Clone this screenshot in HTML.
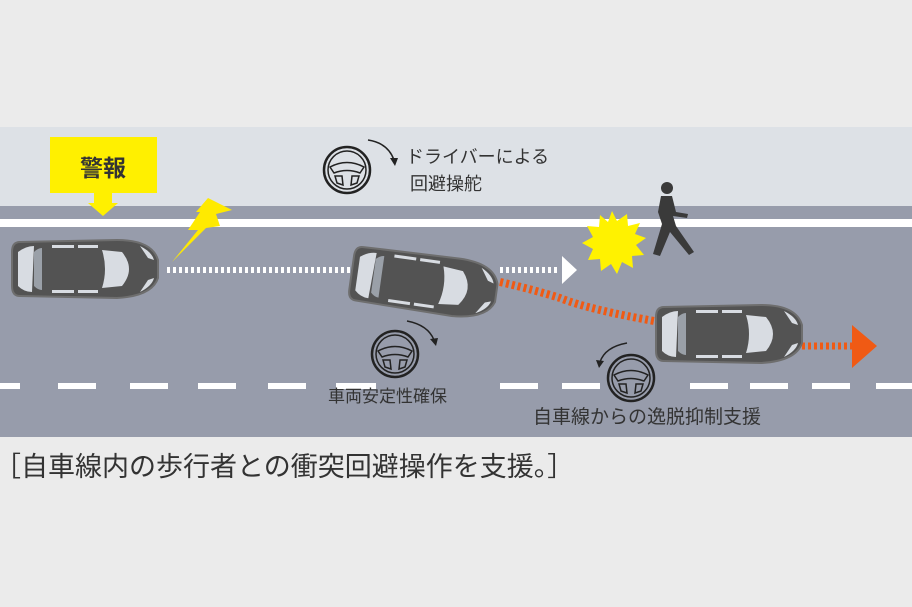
<!DOCTYPE html>
<html><head><meta charset="utf-8"><style>
html,body{margin:0;padding:0;background:#ebebeb;}
svg{display:block;font-family:"Liberation Sans","Noto Sans CJK JP",sans-serif;}
</style></head><body>
<svg width="912" height="607" viewBox="0 0 912 607" xmlns="http://www.w3.org/2000/svg">
<defs>
<g id="car">
  <path d="M8,4 Q0,4 0,14 L0,48 Q0,58 8,58 L105,60 Q140,58 146,40 L146,22 Q140,2 105,2 Z" fill="#535353" stroke="#6e6e6e" stroke-width="2"/>
  <path d="M6,14 Q14,8 22,8 L20,54 Q12,54 6,48 Z" fill="#d8dce2"/>
  <path d="M22,14 Q26,10 30,10 L30,52 Q26,52 22,48 Z" fill="#9aa0a8"/>
  <path d="M90,12 L110,14 Q124,31 110,48 L90,50 Q96,31 90,12 Z" fill="#d8dce2"/>
  <rect x="40" y="7" width="22" height="3" fill="#d8dce2"/>
  <rect x="66" y="7" width="20" height="3" fill="#d8dce2"/>
  <rect x="40" y="52" width="22" height="3" fill="#d8dce2"/>
  <rect x="66" y="52" width="20" height="3" fill="#d8dce2"/>
  <path d="M128,8 Q140,14 142,22 L136,20 Z" fill="#d8dce2"/>
  <path d="M128,54 Q140,48 142,40 L136,42 Z" fill="#d8dce2"/>
</g>
<g id="wheel">
  <circle cx="0" cy="0" r="23" fill="none" stroke="#222" stroke-width="2.5"/>
  <circle cx="0" cy="0" r="19" fill="none" stroke="#222" stroke-width="1.5"/>
  <path d="M-17,-3 Q0,-12 17,-3 L13,3 Q0,-2 -13,3 Z" fill="none" stroke="#222" stroke-width="1.5"/>
  <path d="M-12,6 L-5,6 L-4,15 L-10,13 Z" fill="none" stroke="#222" stroke-width="1.5"/>
  <path d="M12,6 L5,6 L4,15 L10,13 Z" fill="none" stroke="#222" stroke-width="1.5"/>
</g>
</defs>
<rect x="0" y="0" width="912" height="607" fill="#ebebeb"/>
<rect x="0" y="127" width="912" height="79" fill="#dde1e6"/>
<rect x="0" y="206" width="912" height="231" fill="#979cab"/>
<rect x="0" y="219" width="912" height="8" fill="#fff"/>
<g fill="#fff">
  <rect x="0" y="383" width="20" height="6"/><rect x="58" y="383" width="38" height="6"/>
  <rect x="130" y="383" width="38" height="6"/><rect x="198" y="383" width="38" height="6"/>
  <rect x="268" y="383" width="38" height="6"/><rect x="336" y="383" width="40" height="6"/>
  <rect x="500" y="383" width="38" height="6"/><rect x="562" y="383" width="38" height="6"/>
  <rect x="690" y="383" width="38" height="6"/><rect x="750" y="383" width="38" height="6"/>
  <rect x="812" y="383" width="38" height="6"/><rect x="876" y="383" width="36" height="6"/>
</g>
<rect x="50" y="137" width="107" height="56" fill="#fff000"/>
<polygon points="94,193 112,193 112,203 118,203 103,216 88,203 94,203" fill="#fff000"/>
<text x="103" y="176" font-size="23" font-weight="bold" text-anchor="middle" fill="#333">警報</text>
<polygon points="208,198 232,210 216,214 220,226 206,228 172,262 198,230 188,230 200,212 196,212" fill="#ffea00"/>
<line x1="167" y1="270" x2="352" y2="270" stroke="#fff" stroke-width="6" stroke-dasharray="3,3"/>
<line x1="500" y1="270" x2="560" y2="270" stroke="#fff" stroke-width="6" stroke-dasharray="3,3"/>
<polygon points="562,256 577,270 562,284" fill="#fff"/>
<path d="M500,282 Q535,290 560,298 Q590,310 660,322" fill="none" stroke="#f05a14" stroke-width="8" stroke-dasharray="3,3"/>
<line x1="802" y1="346" x2="855" y2="346" stroke="#f05a14" stroke-width="7" stroke-dasharray="3,3"/>
<polygon points="852,325 877,346 852,368" fill="#f05a14"/>
<use href="#car" x="12" y="238"/>
<use href="#car" transform="translate(356,242) rotate(8)"/>
<use href="#car" x="656" y="303"/>
<polygon points="612,211 617,221 627,214 628,226 640,223 635,234 646,238 636,245 644,255 632,256 633,268 622,262 617,274 611,264 601,271 600,259 588,260 593,249 582,243 593,237 587,226 599,227 600,215 608,222" fill="#fff200"/>
<g fill="#3a3a3a">
  <circle cx="667" cy="188" r="6"/>
  <path d="M661,196 L672,196 L676,212 L688,214 L687,218 L673,216 L676,226 L694,252 L689,255 L670,232 L660,256 L653,254 L662,224 L658,212 Z"/>
</g>
<use href="#wheel" x="347" y="170"/>
<path d="M368,140 Q388,143 394,160" fill="none" stroke="#222" stroke-width="1.5"/>
<polygon points="390,158 398,158 395,166" fill="#222"/>
<text x="406" y="163" font-size="18" fill="#333">ドライバーによる</text>
<text x="410" y="190" font-size="18" fill="#333">回避操舵</text>
<use href="#wheel" x="395" y="354"/>
<path d="M407,321 Q428,325 434,340" fill="none" stroke="#222" stroke-width="1.5"/>
<polygon points="430,339 438,338 436,346" fill="#222"/>
<text x="328" y="402" font-size="17" fill="#333">車両安定性確保</text>
<use href="#wheel" x="631" y="378"/>
<path d="M627,343 Q605,347 600,362" fill="none" stroke="#222" stroke-width="1.5"/>
<polygon points="596,360 604,361 599,368" fill="#222"/>
<text x="533" y="423" font-size="19" fill="#333">自車線からの逸脱抑制支援</text>
<text x="-6" y="476" font-size="27" fill="#333">［自車線内の歩行者との衝突回避操作を支援。］</text>
</svg>
</body></html>
